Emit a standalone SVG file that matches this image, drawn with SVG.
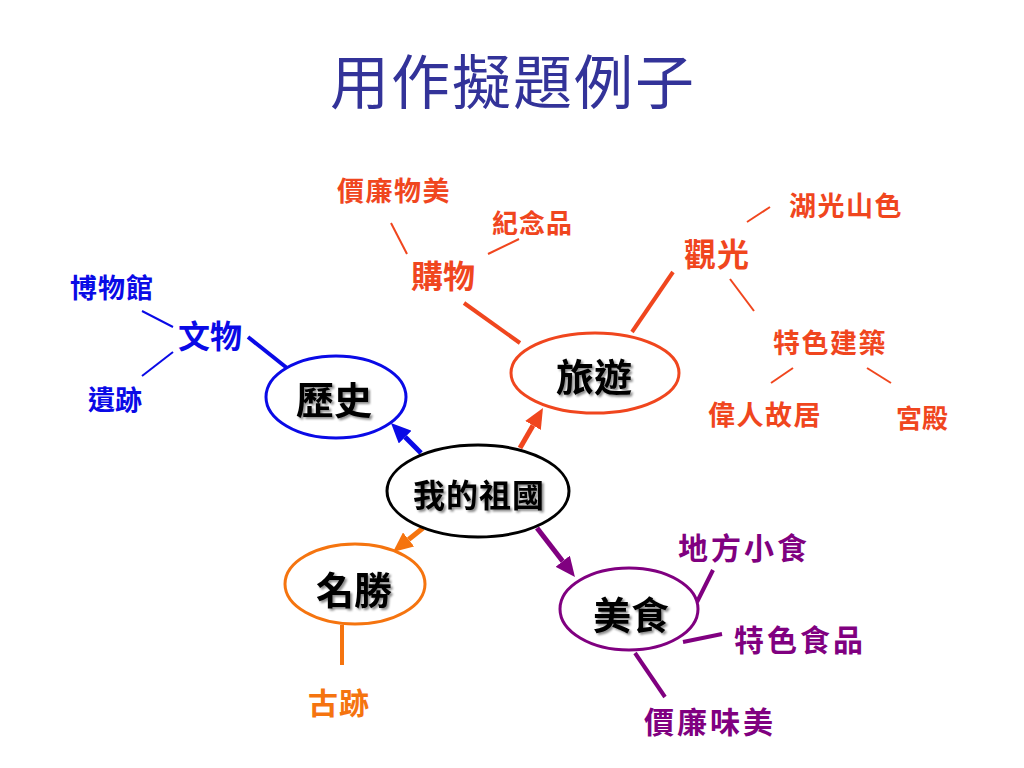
<svg xmlns="http://www.w3.org/2000/svg" width="1024" height="768" viewBox="0 0 1024 768">
<defs>
<style>
text{font-family:"Noto Sans CJK TC","Noto Sans CJK SC",sans-serif;font-weight:bold;}
.title{font-weight:normal;fill:#333399;font-size:59px;letter-spacing:2px;}
.main{fill:#000;font-size:38px;filter:url(#sh);}
.ell{fill:#fff;stroke-width:3;}
.blue{fill:#0a0ae6;}
.red{fill:#f0461e;}
.org{fill:#f5740f;}
.pur{fill:#800080;}
.thin{stroke-width:2;fill:none;}
.thick{stroke-width:4;fill:none;}
.arr{stroke-width:5;fill:none;}
</style>
<filter id="sh" x="-20%" y="-20%" width="140%" height="140%">
<feDropShadow dx="2" dy="2" stdDeviation="1.2" flood-color="#000" flood-opacity="0.45"/>
</filter>
<marker id="mb" markerUnits="userSpaceOnUse" markerWidth="20" markerHeight="18" viewBox="0 0 20 18" refX="0" refY="9" orient="auto"><path d="M0,0 L20,9 L0,18 z" fill="#0a0ae6"/></marker>
<marker id="mr" markerUnits="userSpaceOnUse" markerWidth="20" markerHeight="18" viewBox="0 0 20 18" refX="0" refY="9" orient="auto"><path d="M0,0 L20,9 L0,18 z" fill="#f0461e"/></marker>
<marker id="mo" markerUnits="userSpaceOnUse" markerWidth="20" markerHeight="18" viewBox="0 0 20 18" refX="0" refY="9" orient="auto"><path d="M0,0 L20,9 L0,18 z" fill="#f5740f"/></marker>
<marker id="mp" markerUnits="userSpaceOnUse" markerWidth="20" markerHeight="18" viewBox="0 0 20 18" refX="0" refY="9" orient="auto"><path d="M0,0 L20,9 L0,18 z" fill="#800080"/></marker>
</defs>
<rect width="1024" height="768" fill="#fff"/>
<text id="title" class="title" x="330" y="104">用作擬題例子</text>

<g id="connectors">
<line class="arr" x1="421" y1="453" x2="405.1" y2="437.1" stroke="#0a0ae6" marker-end="url(#mb)"/>
<line class="arr" x1="520" y1="448" x2="533" y2="425.4" stroke="#f0461e" marker-end="url(#mr)"/>
<line class="arr" x1="423" y1="528" x2="408.6" y2="539.5" stroke="#f5740f" marker-end="url(#mo)"/>
<line class="arr" x1="537" y1="528" x2="562.7" y2="561.2" stroke="#800080" marker-end="url(#mp)"/>
<!-- history -->
<line class="thick" x1="287" y1="368" x2="248" y2="337" stroke="#0a0ae6"/>
<line class="thin" x1="142" y1="311" x2="173" y2="327" stroke="#0a0ae6"/>
<line class="thin" x1="142" y1="376" x2="173" y2="352" stroke="#0a0ae6"/>
<!-- travel -->
<line class="thick" x1="464" y1="303" x2="520" y2="343" stroke="#f0461e"/>
<line class="thin" x1="391" y1="223" x2="407" y2="254" stroke="#f0461e"/>
<line class="thin" x1="488" y1="254" x2="519" y2="239" stroke="#f0461e"/>
<line class="thick" x1="673" y1="272" x2="632" y2="332" stroke="#f0461e"/>
<line class="thin" x1="747" y1="222" x2="770" y2="207" stroke="#f0461e"/>
<line class="thin" x1="730" y1="279" x2="754" y2="311" stroke="#f0461e"/>
<line class="thin" x1="793" y1="368" x2="771" y2="383" stroke="#f0461e"/>
<line class="thin" x1="867" y1="368" x2="891" y2="383" stroke="#f0461e"/>
<!-- sights -->
<line class="thick" x1="342" y1="625" x2="342" y2="665" stroke="#f5740f"/>
<!-- food -->
<line class="thick" x1="713" y1="570" x2="697" y2="602" stroke="#800080"/>
<line class="thick" x1="683" y1="642" x2="722" y2="634" stroke="#800080"/>
<line class="thick" x1="635" y1="653" x2="665" y2="697" stroke="#800080"/>
</g>

<g id="n-center">
<ellipse class="ell" cx="478" cy="491" rx="91" ry="46" stroke="#000"/>
<text class="main" x="413" y="507" style="font-size:32px;letter-spacing:1px">我的祖國</text>
</g>
<g id="n-history">
<ellipse class="ell" cx="336" cy="397" rx="70" ry="41" stroke="#0a0ae6"/>
<text class="main" x="296" y="414">歷史</text>
</g>
<g id="n-travel">
<ellipse class="ell" cx="595" cy="373" rx="84" ry="40" stroke="#f0461e"/>
<text class="main" x="556" y="391">旅遊</text>
</g>
<g id="n-sights">
<ellipse class="ell" cx="355" cy="584" rx="70" ry="40" stroke="#f5740f"/>
<text class="main" x="316" y="604">名勝</text>
</g>
<g id="n-food">
<ellipse class="ell" cx="629" cy="609" rx="69" ry="41" stroke="#800080"/>
<text class="main" x="593" y="629">美食</text>
</g>

<g id="n-wenwu"><text class="blue" x="178" y="348" style="font-size:32px">文物</text></g>
<g id="n-museum"><text class="blue" x="70" y="298" style="font-size:27px;letter-spacing:1px">博物館</text></g>
<g id="n-relics"><text class="blue" x="88" y="410" style="font-size:27px">遺跡</text></g>

<g id="n-shopping"><text class="red" x="411" y="288" style="font-size:32px">購物</text></g>
<g id="n-cheap"><text class="red" x="337" y="201" style="font-size:27px;letter-spacing:1.5px">價廉物美</text></g>
<g id="n-souvenir"><text class="red" x="492" y="233" style="font-size:26px;letter-spacing:1px">紀念品</text></g>
<g id="n-sightsee"><text class="red" x="684" y="266" style="font-size:32px;letter-spacing:1px">觀光</text></g>
<g id="n-lake"><text class="red" x="789" y="216" style="font-size:27px;letter-spacing:1.5px">湖光山色</text></g>
<g id="n-arch"><text class="red" x="773" y="353" style="font-size:27px;letter-spacing:1.5px">特色建築</text></g>
<g id="n-former"><text class="red" x="708" y="425" style="font-size:27px;letter-spacing:1.5px">偉人故居</text></g>
<g id="n-palace"><text class="red" x="896" y="428" style="font-size:26px">宮殿</text></g>

<g id="n-ancient"><text class="org" x="308" y="714" style="font-size:30px;letter-spacing:1px">古跡</text></g>

<g id="n-snack"><text class="pur" x="678" y="559" style="font-size:30px;letter-spacing:3px">地方小食</text></g>
<g id="n-special"><text class="pur" x="734" y="651" style="font-size:30px;letter-spacing:3px">特色食品</text></g>
<g id="n-tasty"><text class="pur" x="644" y="733" style="font-size:30px;letter-spacing:3px">價廉味美</text></g>
</svg>
